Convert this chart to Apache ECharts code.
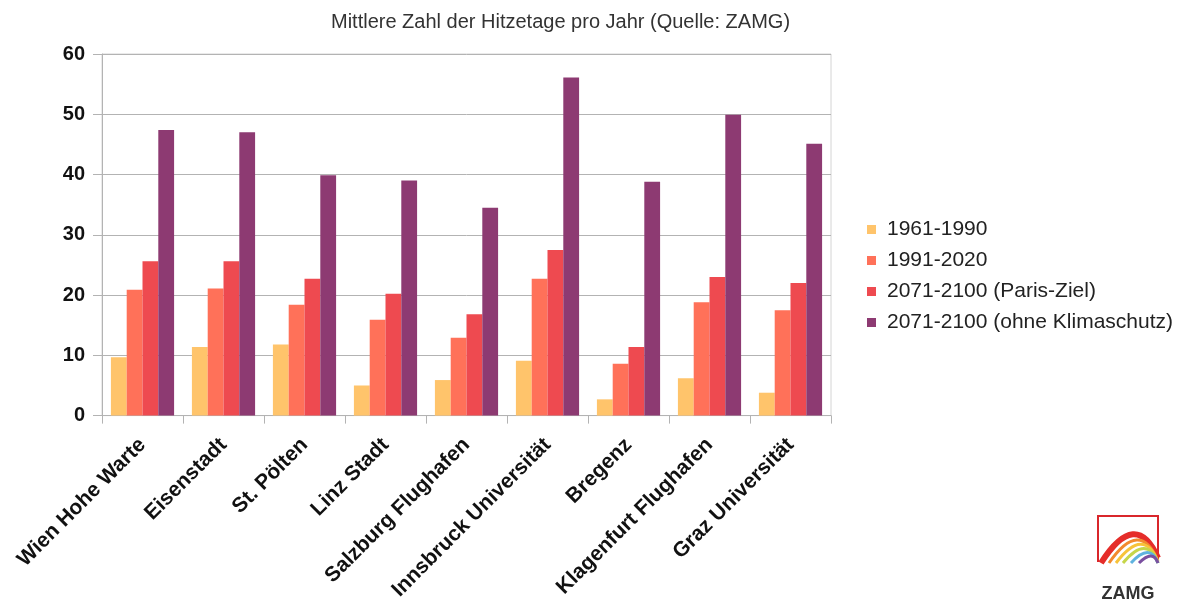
<!DOCTYPE html>
<html>
<head>
<meta charset="utf-8">
<script src="https://cdn.jsdelivr.net/npm/echarts@6/dist/echarts.min.js"></script>
<style>
  html, body { margin: 0; padding: 0; background: #fff; }
  #chart { width: 1185px; height: 603px; }
</style>
</head>
<body>
<div id="chart"></div>
<script>
const stations = [
  "Wien Hohe Warte", "Eisenstadt", "St. Pölten", "Linz Stadt", "Salzburg Flughafen",
  "Innsbruck Universität", "Bregenz", "Klagenfurt Flughafen", "Graz Universität"
]
const seriesNames = ["1961-1990", "1991-2020", "2071-2100 (Paris-Ziel)", "2071-2100 (ohne Klimaschutz)"]
const days1961 = [9.7, 11.4, 11.8, 5.0, 5.9, 9.1, 2.7, 6.2, 3.8]
const days1991 = [20.9, 21.1, 18.4, 15.9, 12.9, 22.7, 8.6, 18.8, 17.5]
const daysParis = [25.6, 25.6, 22.7, 20.2, 16.8, 27.5, 11.4, 23.0, 22.0]
const daysNoProtection = [47.4, 47.0, 39.9, 39.0, 34.5, 56.1, 38.8, 49.9, 45.1]
const colors = ["#ffc46b", "#ff7159", "#ee4a50", "#8d3a72"]

const font = "'Liberation Sans', Arial, sans-serif"
const chart = echarts.init(document.getElementById("chart"), null, { renderer: "canvas" })

const values = [days1961, days1991, daysParis, daysNoProtection]

// ZAMG logo, drawn roughly
const rainbow = [
  { c: "#e52d2a", w: 6, sx: 1101, cx: 1136, cy: 508, ey: 558 },
  { c: "#f28a2e", w: 3, sx: 1109, cx: 1140, cy: 518, ey: 561 },
  { c: "#f7c33a", w: 3, sx: 1116, cx: 1144, cy: 526, ey: 562 },
  { c: "#c6d64a", w: 3, sx: 1123, cx: 1147, cy: 534, ey: 563 },
  { c: "#5fb3df", w: 3, sx: 1131, cx: 1150, cy: 542, ey: 563 },
  { c: "#7a4fa0", w: 3, sx: 1139, cx: 1153, cy: 549, ey: 563 }
]
const logo = [
  {
    type: "polyline",
    shape: { points: [[1098, 562], [1098, 516], [1158, 516], [1158, 562]] },
    style: { stroke: "#d9262b", lineWidth: 2, fill: null }
  },
  ...rainbow.map((r) => ({
    type: "bezierCurve",
    shape: { x1: r.sx, y1: 563, cpx1: r.cx, cpy1: r.cy, x2: 1158, y2: r.ey },
    style: { stroke: r.c, lineWidth: r.w, fill: null }
  })),
  {
    type: "text",
    x: 1128,
    y: 594,
    style: {
      text: "ZAMG", font: "bold 18px " + font, fill: "#333",
      align: "center", verticalAlign: "middle"
    }
  }
]

chart.setOption({
  animation: false,
  textStyle: { fontFamily: font },
  title: {
    text: "Mittlere Zahl der Hitzetage pro Jahr (Quelle: ZAMG)",
    left: 326,
    top: 7,
    textStyle: { fontSize: 20, fontWeight: "normal", color: "#333", fontFamily: font }
  },
  legend: {
    orient: "vertical",
    left: 862,
    top: 214,
    itemWidth: 9,
    itemHeight: 9,
    itemGap: 10,
    icon: "rect",
    data: seriesNames,
    textStyle: { fontSize: 21, color: "#222", padding: [0, 0, 0, 6], fontFamily: font }
  },
  grid: {
    left: 102, right: 354, top: 54, bottom: 187,
    show: true, borderColor: "#d4d4d4", borderWidth: 1
  },
  xAxis: {
    type: "category",
    data: stations,
    axisLine: { lineStyle: { color: "#b3b3b3" } },
    axisTick: { show: true, length: 8, lineStyle: { color: "#b3b3b3" } },
    axisLabel: {
      interval: 0, rotate: 45, margin: 26,
      fontSize: 21, fontWeight: "bold", color: "#111", fontFamily: font
    }
  },
  yAxis: {
    type: "value",
    min: 0, max: 60, interval: 10,
    axisLine: { show: true, lineStyle: { color: "#b3b3b3" } },
    axisTick: { show: true, length: 9, lineStyle: { color: "#b3b3b3" } },
    splitLine: { lineStyle: { color: "#b3b3b3" } },
    axisLabel: { margin: 17, fontSize: 20, fontWeight: "bold", color: "#111", fontFamily: font }
  },
  series: seriesNames.map((name, i) => ({
    name,
    type: "bar",
    data: values[i],
    barGap: "0%",
    barCategoryGap: "22%",
    itemStyle: { color: colors[i] }
  })),
  graphic: logo
})
</script>
</body>
</html>
